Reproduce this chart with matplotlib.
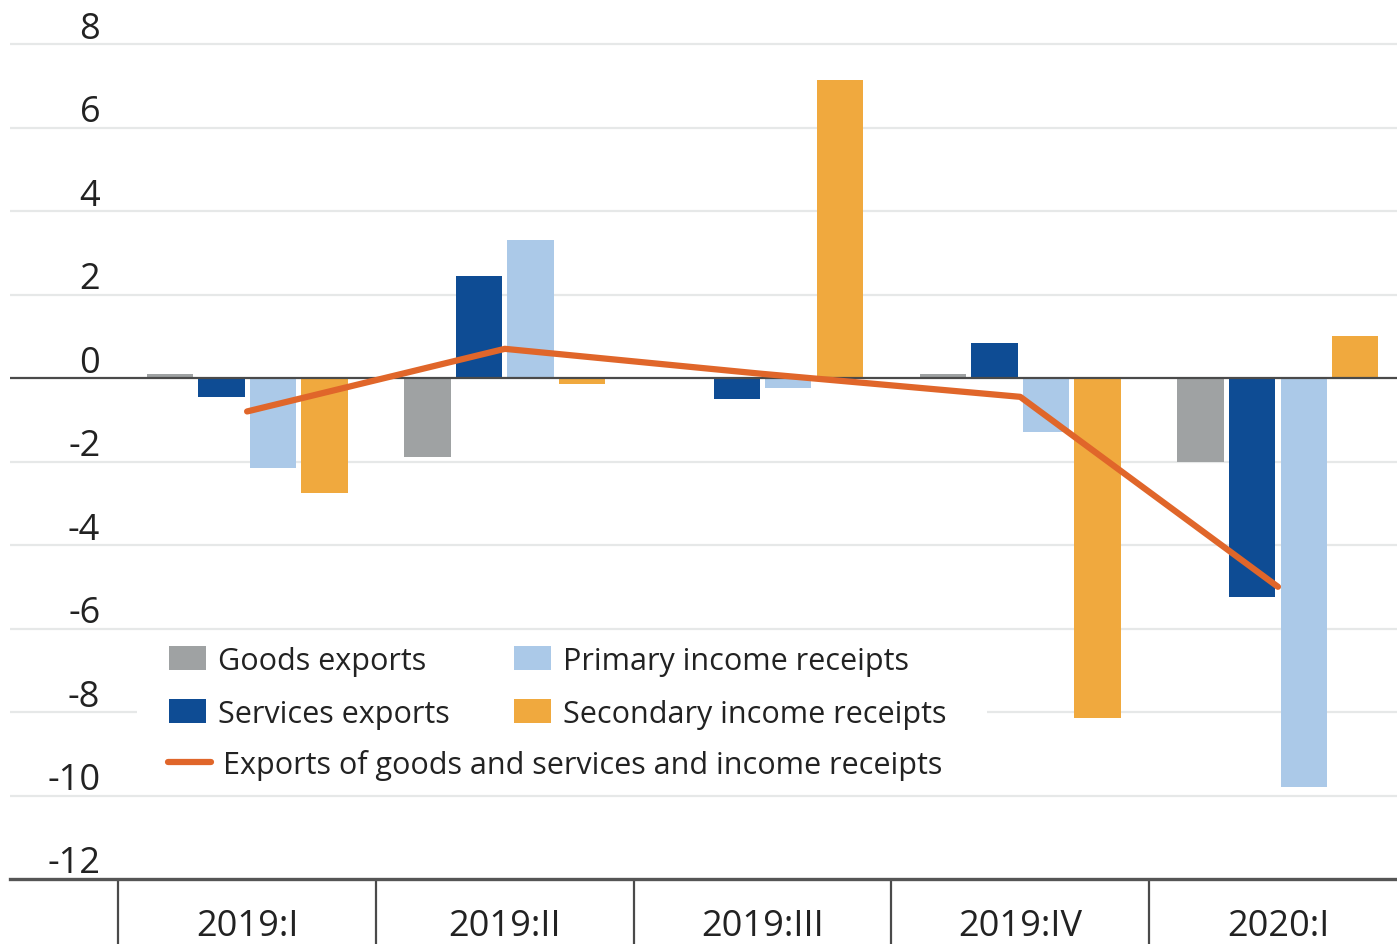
import matplotlib
matplotlib.use("Agg")
import matplotlib.pyplot as plt
import matplotlib.transforms as mtransforms
from matplotlib.patches import Rectangle
import numpy as np

plt.rcParams['font.family'] = ['Open Sans', 'DejaVu Sans']

quarters = ["2019:I", "2019:II", "2019:III", "2019:IV", "2020:I"]
goods = [0.1, -1.9, 0.0, 0.1, -2.0]
services = [-0.45, 2.45, -0.5, 0.85, -5.25]
primary = [-2.15, 3.3, -0.25, -1.3, -9.8]
secondary = [-2.75, -0.15, 7.15, -8.15, 1.0]
total = [-0.8, 0.7, 0.1, -0.45, -5.0]
yticks = [8, 6, 4, 2, 0, -2, -4, -6, -8, -10, -12]

series = [
    ("Goods exports", goods, "#9fa2a3"),
    ("Services exports", services, "#0e4c94"),
    ("Primary income receipts", primary, "#abc9e8"),
    ("Secondary income receipts", secondary, "#f0a93e"),
]

fig = plt.figure(figsize=(13.97, 9.45), dpi=100)
ax = fig.add_axes([10 / 1397, 65 / 945, 1 - 10 / 1397, 880 / 945])

x = np.arange(len(quarters))
offsets = [-0.3, -0.1, 0.1, 0.3]
bars = []
for (name, vals, col), off in zip(series, offsets):
    b = ax.bar(x + off, vals, width=0.18, color=col, label=name, zorder=2)
    bars.append(b)

ax.axhline(0, color="#4a4a4a", lw=1.6, zorder=3)
line, = ax.plot(x, total, color="#e0662a", lw=4.5, zorder=4,
                solid_capstyle="round",
                label="Exports of goods and services and income receipts")

ax.set_xlim(-0.92, 4.462)
ax.set_ylim(-12, 9.08)

# grid
for v in yticks[:-1]:
    if v != 0:
        ax.axhline(v, color="#e6e8e8", lw=1.6, zorder=1)

# y labels above gridlines
ax.set_yticks(yticks)
ax.set_yticklabels([str(v) for v in yticks], fontsize=26, color="#222222")
ax.tick_params(axis="y", length=0, pad=-65)
offset = mtransforms.ScaledTranslation(0, 0.2, fig.dpi_scale_trans)
for lab in ax.get_yticklabels():
    lab.set_transform(lab.get_transform() + offset)
    lab.set_horizontalalignment("right")

# x axis: labels at centers, separators at boundaries
ax.set_xticks(x)
ax.set_xticklabels(quarters, fontsize=26, color="#222222")
ax.tick_params(axis="x", which="major", length=0, pad=21)
ax.set_xticks(np.arange(-0.5, 4.5, 1.0), minor=True)
ax.tick_params(axis="x", which="minor", length=50, width=1.6, color="#4a4a4a", direction="out")

for s in ["top", "right", "left"]:
    ax.spines[s].set_visible(False)
ax.spines["bottom"].set_color("#555555")
ax.spines["bottom"].set_linewidth(2.4)

# legend background
ax.add_patch(Rectangle((127 / 1387, (880 - 790) / 880), 850 / 1387, 153 / 880,
                       transform=ax.transAxes, facecolor="white", edgecolor="none", zorder=5))

leg1 = ax.legend(handles=bars, ncol=2, loc="upper left",
                 bbox_to_anchor=(0.106, 0.279), frameon=False, fontsize=22,
                 handlelength=1.2, handleheight=0.8, handletextpad=0.4,
                 columnspacing=2.1, labelspacing=0.75, borderpad=0.4,
                 borderaxespad=0)
for t in leg1.get_texts():
    t.set_color("#222222")
leg1.set_zorder(6)
ax.add_artist(leg1)
leg2 = ax.legend(handles=[line], loc="upper left",
                 bbox_to_anchor=(0.105, 0.162), frameon=False, fontsize=22,
                 handlelength=1.4, handletextpad=0.4, borderpad=0.4,
                 borderaxespad=0)
for t in leg2.get_texts():
    t.set_color("#222222")
leg2.set_zorder(6)

fig.savefig("out.png", dpi=100, facecolor="white")
